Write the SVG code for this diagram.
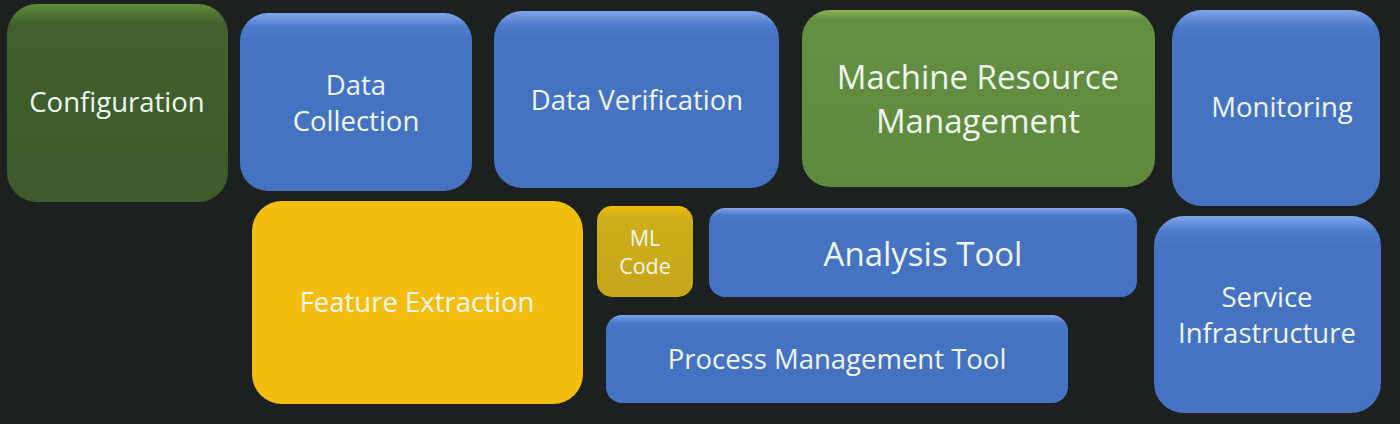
<svg xmlns="http://www.w3.org/2000/svg" width="1400" height="424" viewBox="0 0 1400 424">
<defs>
<linearGradient id="gBlue" x1="0" y1="0" x2="0" y2="1">
<stop offset="0" stop-color="#7fa6ea"/><stop offset="0.08" stop-color="#4d7bcc"/><stop offset="0.15" stop-color="#4672c2"/><stop offset="1" stop-color="#4672c2"/>
</linearGradient>
<linearGradient id="gGreenD" x1="0" y1="0" x2="0" y2="1">
<stop offset="0" stop-color="#5e8c3c"/><stop offset="0.1" stop-color="#41602d"/><stop offset="1" stop-color="#3e5a2b"/>
</linearGradient>
<linearGradient id="gGreen" x1="0" y1="0" x2="0" y2="1">
<stop offset="0" stop-color="#8fb556"/><stop offset="0.05" stop-color="#658f42"/><stop offset="1" stop-color="#5e8a3e"/>
</linearGradient>
<linearGradient id="gMl" x1="0" y1="0" x2="0" y2="1">
<stop offset="0" stop-color="#f4be10"/><stop offset="0.12" stop-color="#cfae1a"/><stop offset="1" stop-color="#c6a61a"/>
</linearGradient>
</defs>
<style>
.t{font-family:"Open Sans","Liberation Sans",sans-serif;fill:#eef7f0;text-anchor:middle}
.s{font-size:27.5px}
.l{font-size:33px}
</style>
<rect width="1400" height="424" fill="#1c201e"/>
<g id="configuration"><rect x="7" y="4" width="221" height="198" rx="30" fill="url(#gGreenD)"/><text class="t s" x="117" y="112">Configuration</text></g>
<g id="data-collection"><rect x="240" y="13" width="232" height="178" rx="28" fill="url(#gBlue)"/><text class="t s" x="356" y="95">Data</text><text class="t s" x="356" y="131">Collection</text></g>
<g id="data-verification"><rect x="494" y="11" width="285" height="177" rx="28" fill="url(#gBlue)"/><text class="t s" x="637" y="110">Data Verification</text></g>
<g id="machine-resource-management"><rect x="802" y="10" width="353" height="177" rx="28" fill="url(#gGreen)"/><text class="t l" x="978" y="89">Machine Resource</text><text class="t l" x="978" y="133">Management</text></g>
<g id="monitoring"><rect x="1172" y="10" width="208" height="196" rx="30" fill="url(#gBlue)"/><text class="t s" x="1282" y="117">Monitoring</text></g>
<g id="feature-extraction"><rect x="252" y="201" width="331" height="203" rx="30" fill="#f4be10"/><text class="t s" x="417" y="312">Feature Extraction</text></g>
<g id="ml-code"><rect x="597" y="206" width="96" height="91" rx="15" fill="url(#gMl)"/><text class="t" style="font-size:21.5px" x="645" y="246">ML</text><text class="t" style="font-size:21.5px" x="645" y="274">Code</text></g>
<g id="analysis-tool"><rect x="709" y="208" width="428" height="89" rx="16" fill="url(#gBlue)"/><text class="t l" x="923" y="266">Analysis Tool</text></g>
<g id="process-management-tool"><rect x="606" y="315" width="462" height="88" rx="16" fill="url(#gBlue)"/><text class="t s" x="837" y="369">Process Management Tool</text></g>
<g id="service-infrastructure"><rect x="1154" y="216" width="227" height="197" rx="30" fill="url(#gBlue)"/><text class="t s" x="1267" y="307">Service</text><text class="t s" x="1267" y="343">Infrastructure</text></g>
<g id="connectors"></g>
</svg>
